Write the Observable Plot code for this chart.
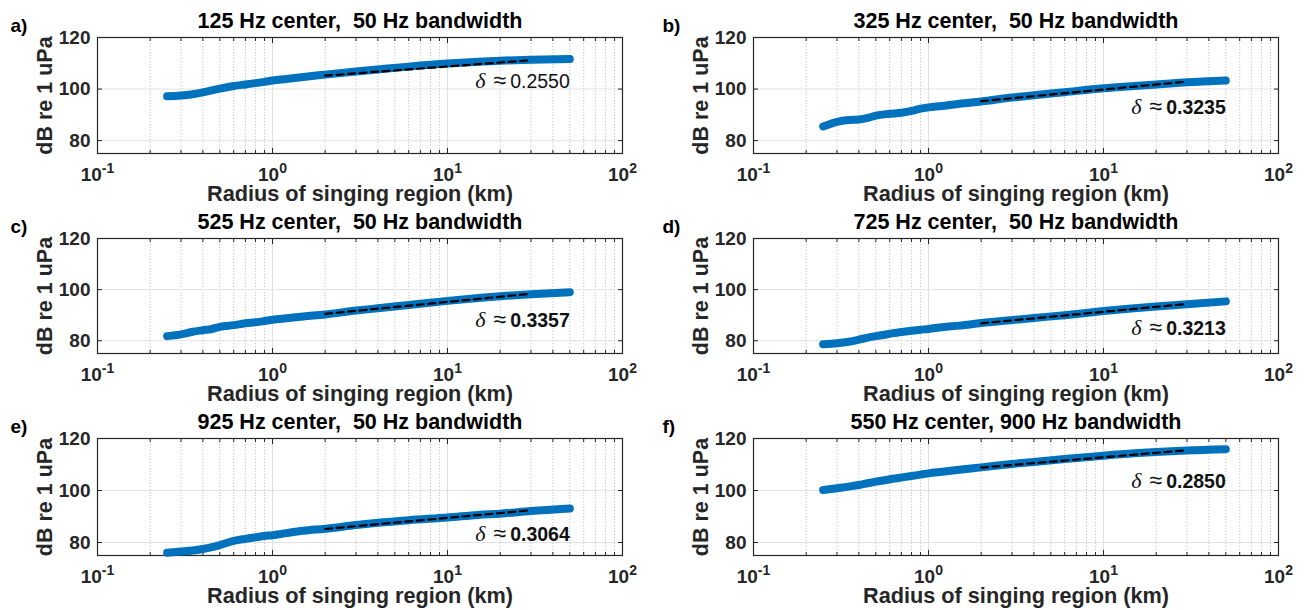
<!DOCTYPE html>
<html><head><meta charset="utf-8">
<script src="https://cdn.jsdelivr.net/npm/d3@7"></script>
<script src="https://cdn.jsdelivr.net/npm/@observablehq/plot@0.6"></script>
<style>
body{margin:0;background:#fff;}
#fig{position:relative;width:1304px;height:610px;overflow:hidden;background:#fff;}
#fig svg{position:absolute;}
#fig svg text{white-space:pre;}
</style></head><body><div id="fig"></div>
<script>
// ---------- data ----------
const radius = [0.25,0.3,0.35,0.4,0.45,0.5,0.6,0.7,0.8,0.9,1,1.2,1.5,2,3,4,6,10,15,20,30,50];
const levelA = [97.2,97.5,98.0,98.7,99.5,100.2,101.2,101.8,102.3,102.8,103.3,103.9,104.7,105.6,106.8,107.6,108.7,109.9,110.6,111.0,111.4,111.7];
const levelB = [85.5,87.3,88.0,88.2,88.8,89.7,90.4,90.8,91.5,92.4,92.9,93.4,94.3,95.2,96.7,97.6,98.8,100.3,101.2,101.8,102.6,103.3];
const levelC = [81.8,82.5,83.5,84.1,84.6,85.4,86.1,86.8,87.2,87.7,88.2,88.8,89.5,90.3,91.8,92.7,94.0,95.6,96.7,97.4,98.2,99.0];
const levelD = [78.6,79.0,79.6,80.4,81.2,81.8,82.7,83.4,83.9,84.3,84.6,85.3,85.9,86.9,88.1,88.9,90.0,91.6,92.7,93.4,94.3,95.4];
const levelE = [76.1,76.5,76.9,77.5,78.2,79.0,80.6,81.4,82.0,82.5,82.8,83.6,84.5,85.3,86.7,87.6,88.6,89.6,90.6,91.1,92.1,93.1];
const levelF = [100.2,100.9,101.5,102.1,102.8,103.4,104.3,105.0,105.6,106.1,106.6,107.2,108.0,108.9,110.2,111.0,112.1,113.4,114.3,114.8,115.4,115.9];

const fitRadius = [2, 30];
const fitA = [105.2, 111.2];
const fitB = [95.3, 102.9];
const fitC = [90.5, 98.4];
const fitD = [86.8, 94.4];
const fitE = [85.2, 92.4];
const fitF = [108.8, 115.5];

const panelLetters = ["a)","b)","c)","d)","e)","f)"];
const titles = ["125 Hz center,  50 Hz bandwidth","325 Hz center,  50 Hz bandwidth","525 Hz center,  50 Hz bandwidth","725 Hz center,  50 Hz bandwidth","925 Hz center,  50 Hz bandwidth","550 Hz center, 900 Hz bandwidth"];
const deltaValues = ["0.2550","0.3235","0.3357","0.3213","0.3064","0.2850"];
const deltaBold = [false,true,true,true,true,true];
const deltaLabelX = [50,50,50,50,50,50];
const deltaLabelY = [102.9,92.8,87.7,84.6,82.8,103.4];

const xMajorTicks = [0.1,1,10,100];
const xTickExponents = ["-1","0","1","2"];
const xMinorTicks = [0.2,0.3,0.4,0.5,0.6,0.7,0.8,0.9,2,3,4,5,6,7,8,9,20,30,40,50,60,70,80,90];
const yTicks = [80,100,120];
const xLabel = "Radius of singing region (km)";
const yLabel = "dB re 1 uPa";

const levels = [levelA,levelB,levelC,levelD,levelE,levelF];
const fits = [fitA,fitB,fitC,fitD,fitE,fitF];

// ---------- layout ----------
const colLeft = [0, 652], colML = [97, 101], colMR = [30, 26];
const rowTop = [0, 200, 400], rowH = [205, 205, 210], rowMT = [37, 38, 38], rowMB = [52, 52, 55];
const FONT = "'Liberation Sans', Arial, Helvetica, sans-serif";
const INK = "#262626";

const fig = document.getElementById("fig");

function panel(i) {
  const col = i % 2, row = Math.floor(i / 2);
  const curve = radius.map((r, j) => ({r, db: levels[i][j]}));
  const fit = fitRadius.map((r, j) => ({r, db: fits[i][j]}));
  const ml = colML[col];
  const svg = Plot.plot({
    width: 652, height: rowH[row],
    marginLeft: ml, marginRight: colMR[col], marginTop: rowMT[row], marginBottom: rowMB[row],
    style: {background: "transparent", overflow: "visible", fontFamily: FONT, color: INK},
    x: {type: "log", domain: [0.1, 100]},
    y: {domain: [75, 120]},
    marks: [
      Plot.ruleX(xMinorTicks, {x: d => d, stroke: "#bdbdbd", strokeWidth: 0.9, strokeDasharray: "1.2,1.8"}),
      Plot.ruleX(xMajorTicks, {x: d => d, stroke: "#dedede", strokeWidth: 1}),
      Plot.ruleY(yTicks, {y: d => d, stroke: "#e2e2e2", strokeWidth: 1}),
      Plot.axisX(xMinorTicks, {anchor: "bottom", tickSize: -3, tickFormat: () => "", label: null, stroke: INK}),
      Plot.axisX(xMinorTicks, {anchor: "top", tickSize: -3, tickFormat: () => "", label: null, stroke: INK}),
      Plot.axisX(xMajorTicks, {anchor: "bottom", tickSize: -5, tickFormat: () => "", label: null, stroke: INK}),
      Plot.axisX(xMajorTicks, {anchor: "top", tickSize: -5, tickFormat: () => "", label: null, stroke: INK}),
      Plot.axisY(yTicks, {anchor: "left", tickSize: -5, tickFormat: () => "", label: null, stroke: INK}),
      Plot.axisY(yTicks, {anchor: "right", tickSize: -5, tickFormat: () => "", label: null, stroke: INK}),
      Plot.frame({stroke: INK, strokeWidth: 1.2}),
      Plot.line(curve, {x: "r", y: "db", stroke: "#0072BD", strokeWidth: 8, strokeLinecap: "round", strokeLinejoin: "round", curve: "monotone-x"}),
      Plot.line(fit, {x: "r", y: "db", stroke: "#000", strokeWidth: 2.2, strokeDasharray: "7,4.5"}),
      Plot.text([deltaValues[i]], {x: () => deltaLabelX[i], y: () => deltaLabelY[i], text: d => d, textAnchor: "end", fontSize: 19.5, fill: "#111"}),
      // tick labels
      Plot.text(xMajorTicks, {x: d => d, frameAnchor: "bottom", dy: 27, lineAnchor: "bottom", text: (d, j) => "10^" + xTickExponents[j], fontSize: 19, fontWeight: "bold", fill: INK}),
      Plot.text(yTicks, {y: d => d, frameAnchor: "left", dx: -7, textAnchor: "end", text: d => String(d), fontSize: 19, fontWeight: "bold", fill: INK}),
      // axis labels, title, panel letter
      Plot.text([xLabel], {frameAnchor: "bottom", dy: 47, lineAnchor: "bottom", textAnchor: "middle", fontSize: 21.7, fontWeight: "bold", fill: INK}),
      Plot.text([yLabel], {frameAnchor: "left", dx: -46, rotate: -90, lineAnchor: "bottom", textAnchor: "middle", fontSize: 21.5, fontWeight: "bold", fill: INK}),
      Plot.text([titles[i]], {frameAnchor: "top", dy: -9.5, lineAnchor: "bottom", textAnchor: "middle", fontSize: 21.5, fontWeight: "bold", fill: "#000"}),
      Plot.text([panelLetters[i]], {frameAnchor: "top-left", dx: -(ml - 10), dy: -6, lineAnchor: "bottom", textAnchor: "start", fontSize: 19, fontWeight: "bold", fill: "#000"})
    ]
  });
  svg.style.left = colLeft[col] + "px";
  svg.style.top = rowTop[row] + "px";

  d3.select(svg).selectAll("text").each(function () {
    const s = this.textContent;
    const sel = d3.select(this);
    if (s.startsWith("10^")) {
      // superscript exponents for the log tick labels
      const t = s.split("^");
      sel.text(null);
      sel.append("tspan").text(t[0]);
      sel.append("tspan").attr("dy", "-8").attr("font-size", "14px").text(t[1]);
    } else if (s === deltaValues[i]) {
      // delta annotation: italic delta, approx sign, value
      sel.text(null);
      sel.append("tspan").attr("font-family", "'Liberation Serif', 'DejaVu Serif', serif").attr("font-style", "italic").attr("font-size", "22px").text("δ");
      sel.append("tspan").attr("dx", "8").attr("font-size", "23px").attr("font-weight", "normal").text("≈");
      sel.append("tspan").attr("dx", "4").attr("font-weight", deltaBold[i] ? "bold" : "normal").text(s);
    }
  });
  fig.appendChild(svg);
}

for (let i = 0; i < 6; i++) panel(i);
</script>
</body></html>
